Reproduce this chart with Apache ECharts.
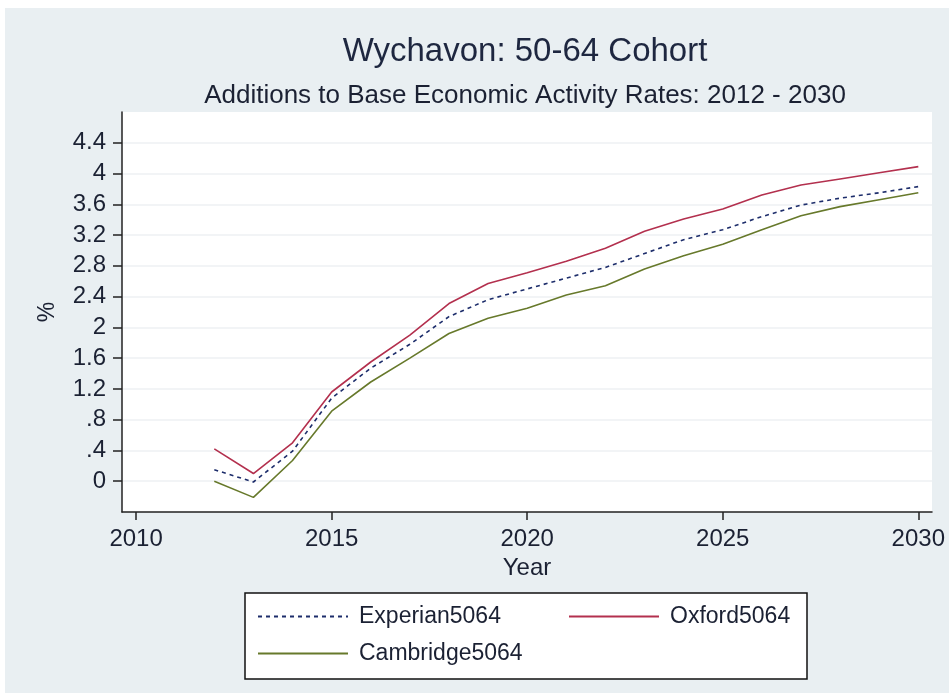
<!DOCTYPE html>
<html><head><meta charset="utf-8">
<script src="https://cdn.jsdelivr.net/npm/echarts@6/dist/echarts.min.js"></script>
<style>html,body{margin:0;padding:0;background:#fff;width:949px;height:693px;overflow:hidden}
#c{position:absolute;left:5px;top:8px;width:944px;height:685px}</style>
</head><body><div id="c"></div>
<script>
const years = [2012,2013,2014,2015,2016,2017,2018,2019,2020,2021,2022,2023,2024,2025,2026,2027,2028,2029,2030];
const experian  = [0.15,-0.01,0.39,1.08,1.47,1.78,2.14,2.36,2.50,2.64,2.78,2.96,3.14,3.27,3.44,3.59,3.68,3.75,3.83];
const oxford    = [0.42,0.10,0.50,1.16,1.55,1.90,2.31,2.57,2.71,2.86,3.03,3.25,3.41,3.54,3.72,3.85,3.93,4.01,4.09];
const cambridge = [0.00,-0.21,0.27,0.91,1.29,1.60,1.92,2.12,2.25,2.42,2.54,2.76,2.93,3.08,3.27,3.45,3.57,3.66,3.75];
const xTicks = [2010,2015,2020,2025,2030];
const yTicks = [0,0.4,0.8,1.2,1.6,2,2.4,2.8,3.2,3.6,4,4.4];

const FONT = 'Liberation Sans, Arial, sans-serif';
const TXT = '#1b2133';
const pairs = v => years.map((y,i)=>[y,v[i]]);
const fmtY = v => { const r = Math.round(v*10)/10; if (r===0) return '0'; let s = String(r); if (s.startsWith('0.')) s = s.slice(1); return s; };

const chart = echarts.init(document.getElementById('c'), null, {renderer:'canvas'});
const legendBase = {
  orient:'horizontal', itemWidth:90, itemHeight:14,
  itemStyle:{opacity:0},
  textStyle:{fontFamily:FONT,fontSize:23,color:TXT,padding:[0,0,0,6]},
  selectedMode:false
};
chart.setOption({
  backgroundColor:'#e9eff2',
  animation:false,
  title:[
    {text:'Wychavon: 50-64 Cohort', left:515, textAlign:'center', top:22, textStyle:{fontFamily:FONT,fontSize:33,fontWeight:'normal',color:'#1e2740'}},
    {text:'Additions to Base Economic Activity Rates: 2012 - 2030', left:515, textAlign:'center', top:70, textStyle:{fontFamily:FONT,fontSize:26,fontWeight:'normal',color:TXT}}
  ],
  grid:{left:117, top:104, right:17, bottom:181, show:true, backgroundColor:'#ffffff', borderWidth:0},
  xAxis:{
    type:'value', min:2009.64, max:2030.35,
    name:'Year', nameLocation:'middle', nameGap:34,
    nameTextStyle:{fontFamily:FONT,fontSize:24,color:TXT},
    axisLine:{show:true,onZero:false,lineStyle:{color:'#222',width:1.5}},
    axisTick:{show:true,length:8,lineStyle:{color:'#222',width:1.5},customValues:xTicks},
    axisLabel:{fontFamily:FONT,fontSize:24,color:TXT,margin:15,customValues:xTicks,formatter:v=>String(Math.round(v))},
    splitLine:{show:false}
  },
  yAxis:{
    type:'value', min:-0.4, max:4.8, interval:0.4,
    name:'%', nameLocation:'middle', nameGap:63, nameRotate:90,
    nameTextStyle:{fontFamily:FONT,fontSize:23,color:TXT},
    axisLine:{show:true,onZero:false,lineStyle:{color:'#222',width:1.5}},
    axisTick:{show:true,length:9,lineStyle:{color:'#222',width:1.5},customValues:yTicks},
    axisLabel:{fontFamily:FONT,fontSize:24,color:TXT,margin:16,customValues:yTicks,formatter:fmtY},
    splitLine:{show:true,lineStyle:{color:'#eef1f3',width:1.5}}
  },
  graphic:[{type:'rect', z:-1, shape:{x:240,y:585,width:562,height:86}, style:{fill:'#fff',stroke:'#111',lineWidth:1.5}}],
  legend:[
    Object.assign({}, legendBase, {data:['Experian5064'], left:247, top:592}),
    Object.assign({}, legendBase, {data:['Oxford5064'], left:558, top:592}),
    Object.assign({}, legendBase, {data:['Cambridge5064'], left:247, top:629})
  ],
  series:[
    {name:'Experian5064', type:'line', data:pairs(experian), showSymbol:false, symbol:'none',
     lineStyle:{color:'#1d2d6b',width:1.6,type:[4,4]}, itemStyle:{color:'#1d2d6b'}},
    {name:'Oxford5064', type:'line', data:pairs(oxford), showSymbol:false, symbol:'none',
     lineStyle:{color:'#b3304e',width:1.6}, itemStyle:{color:'#b3304e'}},
    {name:'Cambridge5064', type:'line', data:pairs(cambridge), showSymbol:false, symbol:'none',
     lineStyle:{color:'#67792b',width:1.6}, itemStyle:{color:'#67792b'}}
  ]
});
</script></body></html>
